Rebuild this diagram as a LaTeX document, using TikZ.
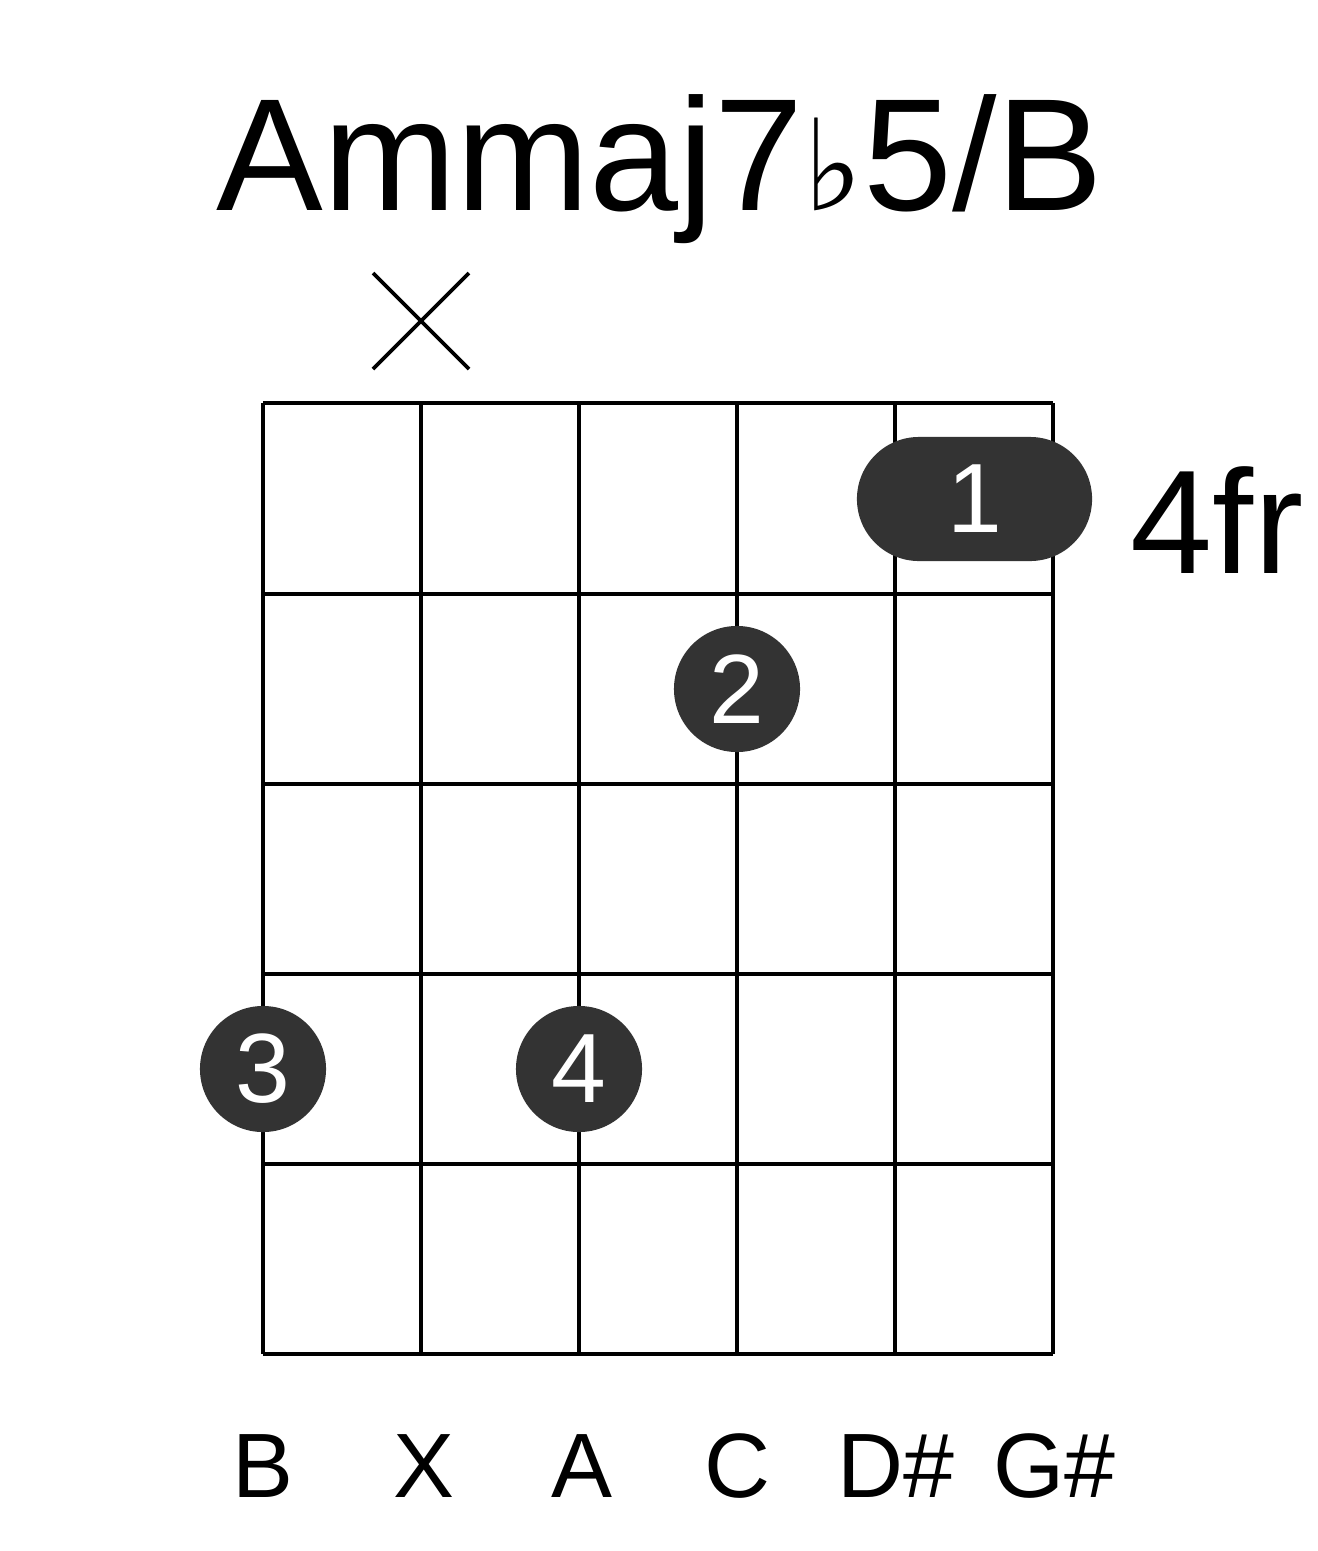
\documentclass[tikz,border=0pt]{standalone}
\usepackage{fontspec}
\setmainfont{Liberation Sans}
\newfontfamily\dejavu{DejaVu Sans}
\definecolor{dot}{HTML}{333333}
\begin{document}
\begin{tikzpicture}[x=0.01cm,y=-0.01cm,
  grid/.style={line width=1.2pt},
  fdot/.style={circle,fill=dot,minimum size=1.26cm,inner sep=0pt,text=white,font=\fontsize{28}{30}\selectfont},
  lbl/.style={font=\fontsize{26}{28}\selectfont,anchor=base}]
\useasboundingbox (0,0) rectangle (1317,1551);
\node[anchor=base,font=\fontsize{45.5}{50}\selectfont] (title) at (660,210) {Ammaj7{\dejavu\fontsize{36}{40}\selectfont ♭}5/B};
\draw[line width=1.1pt] (373,273) -- (469,369) (373,369) -- (469,273);
\foreach \x in {263,421,579,737,895,1053} \draw[grid] (\x,403) -- (\x,1354);
\foreach \y in {403,594,784,974,1164,1354} \draw[grid] (263,\y) -- (1053,\y);
\node[fill=dot,rounded corners=0.62cm,minimum width=2.35cm,minimum height=1.24cm,inner sep=0pt,text=white,font=\fontsize{28}{30}\selectfont] (barre) at (974.5,499) {1};
\node[fdot] (d2) at (737,689) {2};
\node[fdot] (d3) at (263,1069) {3};
\node[fdot] (d4) at (579,1069) {4};
\node[anchor=base,font=\fontsize{42}{44}\selectfont] (fr) at (1217,573) {4fr};
\node[lbl] (l1) at (263,1497) {B};
\node[lbl] (l2) at (424,1497) {X};
\node[lbl] (l3) at (582,1497) {A};
\node[lbl] (l4) at (738,1497) {C};
\node[lbl] (l5) at (896,1497) {D\#};
\node[lbl] (l6) at (1054,1497) {G\#};
\end{tikzpicture}
\end{document}
